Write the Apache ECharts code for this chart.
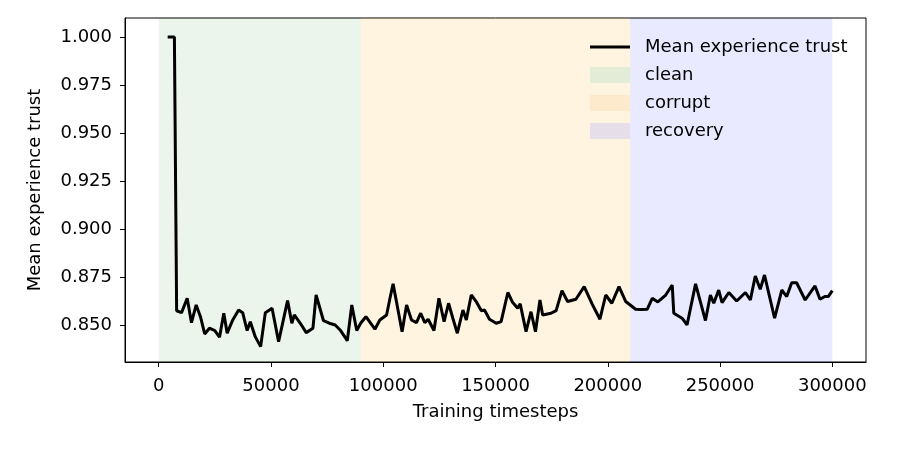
<!DOCTYPE html>
<html><head><meta charset="utf-8">
<script src="https://cdn.jsdelivr.net/npm/echarts@6/dist/echarts.min.js"></script>
<style>html,body{margin:0;padding:0;background:#fff}#c{width:897px;height:449px}</style>
</head><body><div id="c"></div>
<script>
const timesteps = [4000,7000,8000,10200,12700,14600,16700,18600,20500,22600,25000,27100,29000,30500,33000,35600,37400,39400,40800,43000,45400,47500,50500,53400,57400,59300,60400,63000,65700,68700,70100,73400,76000,78600,80800,84000,86000,88200,90000,92300,96300,98500,101500,103000,104400,108400,110400,112600,114800,116700,118500,120000,122600,124800,127100,129100,131000,133000,135500,137000,139200,141500,143700,145100,147300,150300,152500,155500,157500,159900,161000,163600,165800,167800,169800,171000,174700,177000,179600,182100,185800,189500,193000,196500,199100,201800,205000,208000,212400,214800,217600,219800,222300,225800,228700,229400,233100,235300,239100,243500,245700,247200,249400,250900,253900,257400,261300,263500,265700,267900,269800,274300,277500,279700,281900,284100,287900,292300,294500,296700,298200,300000];
const trust = [1.000,1.000,0.8574,0.8564,0.8639,0.8512,0.8604,0.8543,0.8453,0.8483,0.8471,0.8436,0.8561,0.8457,0.8526,0.8578,0.8564,0.8471,0.8517,0.8439,0.8387,0.8564,0.8587,0.8413,0.8627,0.8509,0.8552,0.8510,0.8460,0.8483,0.8656,0.8522,0.8509,0.8500,0.8474,0.8418,0.8604,0.8471,0.8510,0.8543,0.8478,0.8526,0.8552,0.8639,0.8714,0.8465,0.8604,0.8526,0.8512,0.8561,0.8512,0.8530,0.8471,0.8639,0.8517,0.8613,0.8535,0.8457,0.8578,0.8526,0.8656,0.8620,0.8574,0.8578,0.8530,0.8509,0.8517,0.8669,0.8620,0.8587,0.8610,0.8465,0.8569,0.8465,0.8630,0.8552,0.8561,0.8575,0.8679,0.8622,0.8634,0.8700,0.8610,0.8530,0.8656,0.8613,0.8700,0.8622,0.8582,0.8580,0.8582,0.8639,0.8620,0.8656,0.8708,0.8561,0.8535,0.8500,0.8714,0.8523,0.8656,0.8613,0.8682,0.8616,0.8669,0.8625,0.8669,0.8630,0.8755,0.8686,0.8760,0.8535,0.8682,0.8648,0.8720,0.8720,0.8630,0.8703,0.8634,0.8648,0.8648,0.8679];
const phaseNames = ['clean','corrupt','recovery'];
const phaseStart = [0, 90000, 210000];
const phaseEnd = [90000, 210000, 300000];
const phaseColors = ['rgba(0,128,0,0.08)','rgba(255,165,0,0.12)','rgba(0,0,255,0.085)'];
const legendColors = ['#e2ecd6','#fde9cc','#e6dee8'];
const xTicks = [0,50000,100000,150000,200000,250000,300000];
const yTicks = [0.850,0.875,0.900,0.925,0.950,0.975,1.000];
const font = 'DejaVu Sans';
const fs = 18;

const chart = echarts.init(document.getElementById('c'), null, {renderer:'canvas'});
const series = [{
  name:'Mean experience trust', type:'line', data: timesteps.map((t,i)=>[t,trust[i]]),
  showSymbol:false, symbol:'none', z:5,
  lineStyle:{color:'#000', width:3}, itemStyle:{color:'#000'}
}];
phaseNames.forEach((n,i)=>{
  series.push({
    name:n, type:'line', data:[], itemStyle:{color:legendColors[i]}, lineStyle:{color:legendColors[i]},
    markArea:{silent:true, itemStyle:{color:phaseColors[i]}, data:[[{xAxis:phaseStart[i]},{xAxis:phaseEnd[i]}]]}
  });
});
chart.setOption({
  animation:false,
  textStyle:{fontFamily:font},
  grid:{left:125, right:31, top:18, bottom:87, show:true, borderColor:'#000', borderWidth:1, backgroundColor:'transparent'},
  legend:{
    orient:'vertical', left:585, top:33, itemWidth:40, itemHeight:16, itemGap:10,
    textStyle:{fontFamily:font, fontSize:fs, color:'#000', padding:[0,0,0,10]},
    data:[{name:'Mean experience trust', icon:'path://M0,0 L40,0 L40,3 L0,3 Z'},
          {name:'clean', icon:'rect'},{name:'corrupt', icon:'rect'},{name:'recovery', icon:'rect'}]
  },
  xAxis:{
    type:'value', min:-15000, max:315000,
    name:'Training timesteps', nameLocation:'middle', nameGap:41,
    nameTextStyle:{fontFamily:font, fontSize:fs, color:'#000'},
    axisLine:{show:true, onZero:false, lineStyle:{color:'#000', width:1}},
    axisTick:{show:true, length:5, lineStyle:{color:'#000'}, customValues:xTicks},
    axisLabel:{fontFamily:font, fontSize:fs, color:'#000', margin:15, customValues:xTicks, formatter:v=>String(v)},
    splitLine:{show:false}
  },
  yAxis:{
    type:'value', min:0.8307, max:1.0099,
    name:'Mean experience trust', nameLocation:'middle', nameGap:81,
    nameTextStyle:{fontFamily:font, fontSize:fs, color:'#000'},
    axisLine:{show:true, onZero:false, lineStyle:{color:'#000', width:1}},
    axisTick:{show:true, length:5, lineStyle:{color:'#000'}, customValues:yTicks},
    axisLabel:{fontFamily:font, fontSize:fs, color:'#000', margin:13, customValues:yTicks, formatter:v=>v.toFixed(3)},
    splitLine:{show:false}
  },
  series:series
});
</script></body></html>
